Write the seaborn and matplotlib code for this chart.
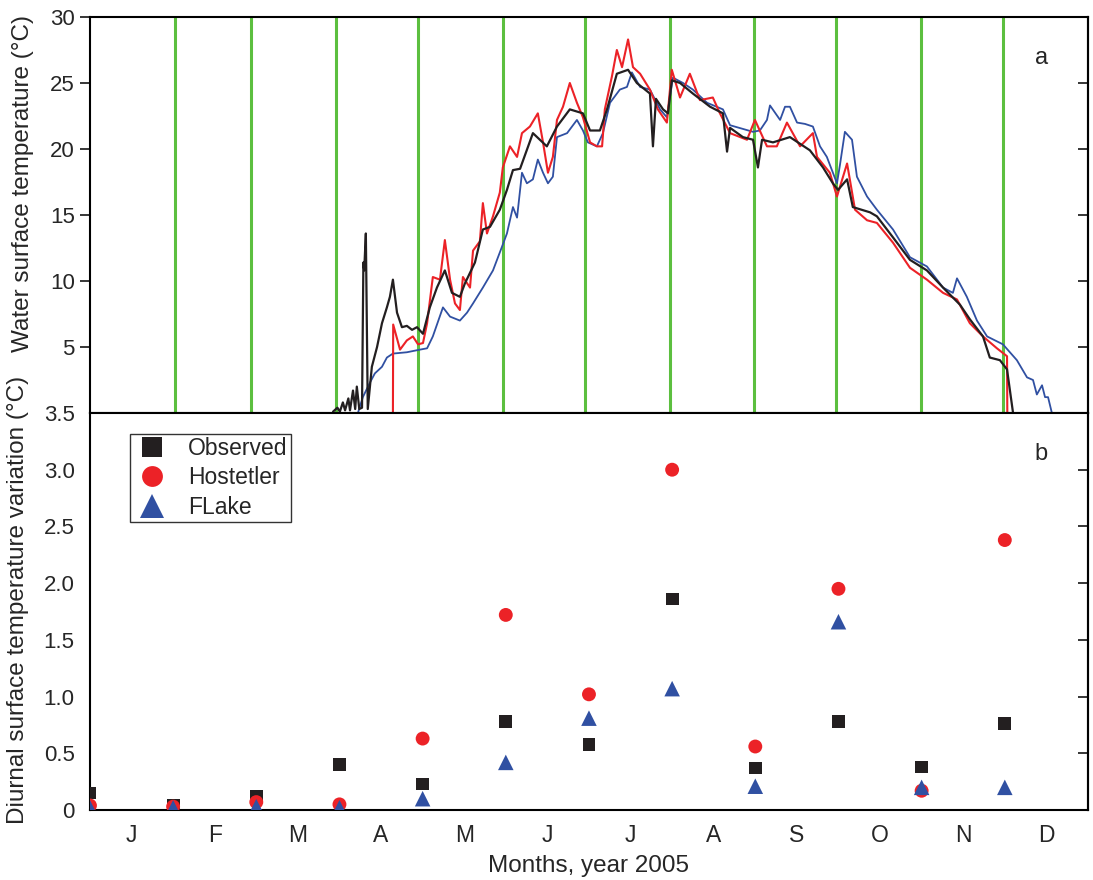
import numpy as np
import pandas as pd
import matplotlib
matplotlib.use("Agg")
import matplotlib.pyplot as plt
import seaborn as sns

# --- panel a: water surface temperature time series (day of year, deg C) ---
obs_day = [88.9, 90.5, 91.4, 92.5, 93.3, 94.5, 95.1, 96.2, 97.0, 97.6, 98.5, 99.5,
           100.0, 100.3, 100.9, 101.6, 103.1, 105.0, 106.8, 108.6, 109.7, 110.8,
           112.3, 114.1, 115.9, 117.8, 119.6, 121.8, 124.3, 126.9, 129.8, 132.4,
           135.3, 137.1, 140.8, 143.7, 146.3, 149.9, 152.5, 154.7, 157.3, 162.0,
           167.1, 170.8, 175.5, 180.3, 182.9, 186.5, 189.1, 192.7, 196.8, 200.0,
           204.8, 205.9, 207.0, 209.6, 211.4, 212.8, 215.8, 220.5, 226.8, 231.5,
           233.0, 234.1, 238.8, 242.5, 244.3, 245.8, 249.8, 256.0, 263.3, 268.1,
           271.7, 273.6, 276.9, 279.0, 285.3, 287.8, 293.7, 299.9, 306.1, 312.0,
           318.2, 321.8, 326.6, 329.1, 332.8, 335.4, 337.6]
obs_temp = [0.1, 0.4, 0.1, 0.8, 0.2, 1.1, 0.2, 1.7, 0.3, 2.0, 0.3, 0.4,
            11.4, 10.8, 13.6, 0.3, 3.5, 5.0, 6.8, 8.0, 8.8, 10.1,
            7.6, 6.5, 6.6, 6.3, 6.5, 6.0, 8.0, 9.5, 10.8, 9.1,
            8.8, 9.8, 11.4, 13.9, 14.1, 15.4, 16.9, 18.4, 18.5, 21.2,
            20.2, 21.7, 23.0, 22.7, 21.4, 21.4, 23.0, 25.7, 26.0, 25.0,
            24.2, 20.2, 23.8, 23.0, 22.7, 25.2, 25.0, 24.2, 23.2, 22.7,
            19.8, 21.6, 20.9, 20.7, 18.6, 20.7, 20.5, 20.9, 19.9, 18.6,
            17.4, 16.9, 17.7, 15.6, 15.2, 14.9, 13.3, 11.6, 10.8, 9.5,
            8.2, 7.1, 5.8, 4.2, 4.0, 3.3, 0.0]

host_day = [110.8, 110.9, 113.4, 115.9, 118.1, 120.0, 121.8, 123.3, 125.4, 128.0,
            129.8, 131.7, 133.5, 135.3, 136.4, 139.0, 140.1, 142.6, 143.7, 145.2,
            147.4, 149.9, 151.0, 153.6, 156.2, 158.0, 160.9, 163.8, 165.7, 167.5,
            169.3, 170.8, 173.0, 175.5, 178.1, 180.3, 182.9, 185.4, 187.3, 188.3,
            190.9, 192.7, 194.6, 196.8, 198.6, 201.2, 204.8, 207.7, 211.0, 212.8,
            215.8, 219.4, 223.1, 227.8, 230.4, 234.1, 240.3, 243.2, 247.6, 251.2,
            254.9, 259.7, 264.4, 265.9, 270.6, 273.2, 276.9, 277.9, 279.8, 284.2,
            287.8, 293.7, 299.9, 306.1, 312.0, 317.1, 321.8, 326.6, 331.7, 335.4,
            335.5]
host_temp = [0.0, 6.7, 4.8, 5.5, 5.8, 5.2, 5.3, 6.8, 10.3, 10.1,
             13.1, 10.1, 8.3, 7.8, 10.3, 9.5, 12.3, 13.0, 15.9, 13.6,
             14.9, 16.7, 18.6, 20.2, 19.4, 21.2, 21.7, 22.7, 20.5, 18.2,
             19.4, 22.2, 23.2, 25.0, 23.5, 22.4, 20.5, 20.2, 20.2, 23.0,
             25.5, 27.5, 26.2, 28.3, 26.2, 25.7, 24.5, 23.0, 22.0, 26.0,
             23.9, 25.7, 23.7, 23.9, 22.7, 21.2, 20.7, 22.2, 20.2, 20.2,
             22.0, 20.2, 21.2, 19.4, 18.2, 16.4, 18.9, 17.7, 15.4, 14.6,
             14.4, 12.9, 11.0, 10.1, 9.1, 8.6, 6.8, 5.8, 4.9, 4.3,
             0.0]

flake_day = [98.0, 99.8, 102.4, 104.2, 106.8, 108.6, 110.8, 115.9, 120.7, 123.3,
             125.4, 129.1, 131.7, 135.3, 137.9, 140.1, 143.7, 147.4, 150.7, 152.5,
             154.7, 156.2, 158.0, 159.8, 162.0, 163.8, 165.7, 167.5, 169.3, 170.8,
             174.5, 178.1, 180.3, 182.1, 185.4, 187.6, 190.2, 193.8, 196.4, 198.2,
             201.2, 204.8, 208.5, 211.0, 213.2, 216.9, 220.5, 225.7, 231.5, 234.1,
             242.5, 245.0, 247.6, 248.7, 252.4, 254.2, 256.0, 258.6, 261.5, 264.4,
             267.0, 269.5, 273.2, 274.3, 276.1, 278.7, 280.5, 284.2, 287.8, 293.7,
             299.9, 306.1, 312.0, 315.6, 317.1, 320.7, 324.4, 328.1, 333.9, 339.0,
             342.7, 344.9, 346.3, 348.2, 349.3, 350.4, 351.8]
flake_temp = [0.0, 1.2, 2.3, 3.0, 3.5, 4.2, 4.5, 4.6, 4.8, 4.9,
              5.8, 8.0, 7.3, 7.0, 7.6, 8.3, 9.5, 10.8, 12.6, 13.6,
              15.6, 14.8, 18.2, 17.4, 17.7, 19.2, 18.2, 17.4, 17.9, 20.9,
              21.2, 22.2, 21.4, 20.5, 20.2, 21.2, 23.5, 24.5, 24.7, 25.8,
              24.7, 24.5, 23.0, 22.4, 25.4, 25.0, 24.5, 23.5, 23.0, 21.8,
              21.3, 21.4, 22.2, 23.3, 22.2, 23.2, 23.2, 22.0, 21.9, 21.7,
              20.2, 19.4, 17.4, 18.8, 21.3, 20.7, 17.9, 16.4, 15.4, 13.9,
              11.8, 11.1, 9.5, 9.1, 10.2, 8.8, 7.0, 5.8, 5.2, 4.0,
              2.7, 2.5, 1.4, 2.1, 1.2, 1.2, 0.0]

# first day of each month (green markers in panel a)
month_starts = [31, 59, 90, 120, 151, 181, 212, 243, 273, 304, 334]
month_letters = ["J", "F", "M", "A", "M", "J", "J", "A", "S", "O", "N", "D"]

# --- panel b: diurnal variation, one value per month boundary (index 0..11) ---
point_idx = list(range(12))
observed_b = [0.15, 0.04, 0.12, 0.40, 0.23, 0.78, 0.58, 1.86, 0.37, 0.78, 0.38, 0.76]
hostetler_b = [0.04, 0.03, 0.07, 0.05, 0.63, 1.72, 1.02, 3.00, 0.56, 1.95, 0.17, 2.38]
flake_b = [0.02, 0.02, 0.03, 0.02, 0.10, 0.42, 0.81, 1.07, 0.21, 1.66, 0.20, 0.20]

C_OBS = "#231f20"
C_HOST = "#ec2227"
C_FLAKE = "#3050a2"
C_GREEN = "#5cbf3f"

sns.set_style("white")
plt.rcParams["font.family"] = ["Liberation Sans", "DejaVu Sans"]
plt.rcParams["font.size"] = 16
plt.rcParams["axes.linewidth"] = 1.5

fig = plt.figure(figsize=(10.93, 8.8), dpi=100)
ax_a = fig.add_axes([0.0823, 0.5307, 0.9131, 0.45])
ax_b = fig.add_axes([0.0823, 0.0795, 0.9131, 0.4512], sharex=ax_a)

month_len = 365 / 12
tick_pos = [k * month_len for k in range(12)]
mid_pos = [(k + 0.5) * month_len for k in range(12)]

# panel a
for d in month_starts:
    ax_a.axvline(d, color=C_GREEN, lw=2.2, zorder=1)
sns.lineplot(x=obs_day, y=obs_temp, ax=ax_a, color=C_OBS, lw=1.6,
             estimator=None, sort=False, zorder=3)
sns.lineplot(x=flake_day, y=flake_temp, ax=ax_a, color=C_FLAKE, lw=1.3,
             estimator=None, sort=False, zorder=2)
sns.lineplot(x=host_day, y=host_temp, ax=ax_a, color=C_HOST, lw=1.5,
             estimator=None, sort=False, zorder=2.5)
ax_a.set_xlim(0, 365)
ax_a.set_ylim(0, 30)
ax_a.set_yticks([5, 10, 15, 20, 25, 30])
ax_a.set_ylabel("Water surface temperature (\u00b0C)", fontsize=17.5)
ax_a.yaxis.set_label_coords(-0.056, 0.58)
ax_a.text(0.953, 0.897, "a", transform=ax_a.transAxes, fontsize=17,
          ha="center", va="center")
ax_a.tick_params(axis="y", direction="out", length=7, width=1.3, left=True,
                 labelsize=16, pad=4)
ax_a.tick_params(axis="x", which="major", direction="out", length=6, width=1.3,
                 bottom=True, labelbottom=False)
ax_a.tick_params(axis="x", which="minor", length=0, labelbottom=False)
sec_a = ax_a.secondary_yaxis("right")
sec_a.set_yticks([5, 10, 15, 20, 25, 30])
sec_a.tick_params(direction="in", length=7, width=1.3, labelright=False)

# panel b
df_b = pd.DataFrame({
    "idx": point_idx * 3,
    "value": observed_b + hostetler_b + flake_b,
    "model": ["Observed"] * 12 + ["Hostetler"] * 12 + ["FLake"] * 12,
})
df_b["day"] = df_b["idx"] * month_len
sns.scatterplot(data=df_b, x="day", y="value", hue="model", style="model",
                size="model",
                palette={"Observed": C_OBS, "Hostetler": C_HOST, "FLake": C_FLAKE},
                markers={"Observed": "s", "Hostetler": "o", "FLake": "^"},
                sizes={"Observed": 85, "Hostetler": 100, "FLake": 125},
                linewidth=0, ax=ax_b, zorder=3, clip_on=True)
ax_b.set_ylim(0, 3.5)
ax_b.set_yticks([0, 0.5, 1.0, 1.5, 2.0, 2.5, 3.0, 3.5])
ax_b.set_yticklabels(["0", "0.5", "1.0", "1.5", "2.0", "2.5", "3.0", "3.5"])
ax_b.set_ylabel("Diurnal surface temperature variation (\u00b0C)", fontsize=17.5)
ax_b.yaxis.set_label_coords(-0.061, 0.53)
ax_b.set_xticks(tick_pos)
ax_b.set_xticks(mid_pos, minor=True)
ax_b.set_xticklabels([""] * 12)
ax_b.set_xticklabels(month_letters, minor=True)
ax_b.tick_params(axis="x", which="major", direction="out", length=8, width=1.3)
ax_b.tick_params(axis="x", which="minor", length=0, pad=10, labelsize=16.5)
ax_b.tick_params(axis="y", direction="out", length=7, width=1.3, labelsize=16, pad=4)
ax_b.set_xlabel("Months, year 2005", fontsize=17.5, labelpad=6)
ax_b.text(0.953, 0.897, "b", transform=ax_b.transAxes, fontsize=17,
          ha="center", va="center")
sec_b = ax_b.secondary_yaxis("right")
sec_b.set_yticks([0, 0.5, 1.0, 1.5, 2.0, 2.5, 3.0, 3.5])
sec_b.tick_params(direction="in", length=7, width=1.3, labelright=False)

handles, labels = ax_b.get_legend_handles_labels()
leg = ax_b.legend(handles, labels, loc="upper left", bbox_to_anchor=(0.04, 0.948),
                  frameon=True, fancybox=False, edgecolor="black", fontsize=16.5,
                  borderaxespad=0, handletextpad=0.8, labelspacing=0.28,
                  borderpad=0.15, markerscale=1.5, handlelength=1.6)
leg.get_frame().set_linewidth(1.0)

for ax in (ax_a, ax_b):
    for sp in ax.spines.values():
        sp.set_color("black")
        sp.set_linewidth(1.5)
    ax.set_facecolor("white")

fig.savefig("out.png", dpi=100, facecolor="white")
